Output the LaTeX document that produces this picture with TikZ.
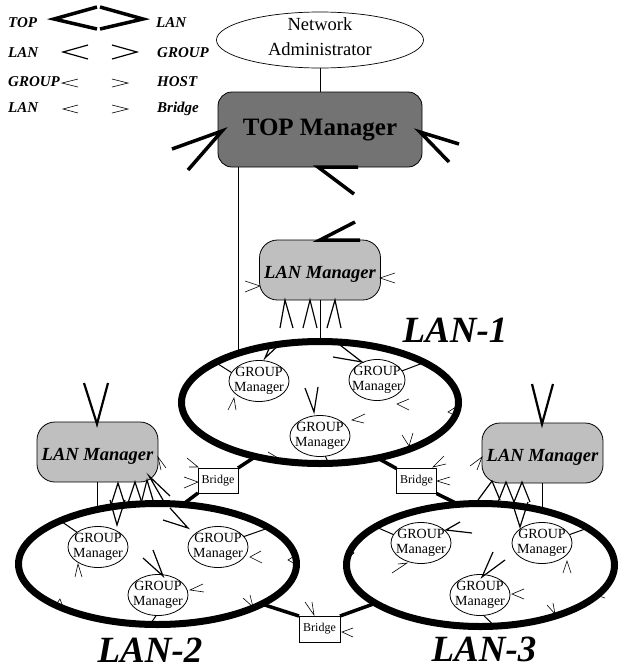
\documentclass[tikz,border=0pt]{standalone}
\usepackage{fontspec}
\setmainfont{Liberation Serif}
\usetikzlibrary{shapes.geometric}
\begin{document}
\begin{tikzpicture}[x=1pt,y=-1pt,
  lanring/.style={ellipse,draw,line width=7pt,inner sep=0pt,outer sep=0pt},
  gm/.style={ellipse,draw,line width=0.8pt,inner xsep=-8pt,inner ysep=-5pt,outer sep=0pt,
    minimum width=60pt,minimum height=41pt,align=center,font=\fontsize{14}{15}\selectfont},
  lanmgr/.style={rectangle,rounded corners=18pt,draw,line width=0.8pt,fill=black!25,
    minimum width=121pt,minimum height=60pt,inner sep=0pt,outer sep=0pt,
    font=\fontsize{18.5}{20}\selectfont\bfseries\itshape},
  bridgebox/.style={rectangle,draw,line width=0.7pt,minimum width=40pt,minimum height=25pt,
    inner sep=0pt,outer sep=0pt,font=\fontsize{12}{13}\selectfont},
  conn/.style={line width=1pt},
  bconn/.style={line width=3.5pt},
  chevXL/.style={line width=3.5pt},
  chevL/.style={line width=2.2pt},
  chevM/.style={line width=1.2pt},
  chevS/.style={line width=0.6pt},
  lbl/.style={font=\fontsize{15}{16}\selectfont\bfseries\itshape,anchor=base west,inner sep=0pt},
  lanlbl/.style={font=\fontsize{37}{40}\selectfont\bfseries\itshape,anchor=base,inner sep=0pt},
]
\useasboundingbox (0,0) rectangle (619,670);

% ---------- legend ----------
\node[lbl] (lTOP) at (8,27) {TOP};
\node[lbl] (lLANa) at (156,27) {LAN};
\node[lbl] (lLANb) at (8,57) {LAN};
\node[lbl] (lGROUPa) at (157,57) {GROUP};
\node[lbl] (lGROUPb) at (8,86) {GROUP};
\node[lbl] (lHOST) at (157,86) {HOST};
\node[lbl] (lLANc) at (8,112) {LAN};
\node[lbl] (lBridge) at (157,112) {Bridge};
\draw[chevXL] (97,7) -- (54,19) -- (97,29);
\draw[chevXL] (100,7) -- (143,19) -- (100,29);
\draw[chevM] (88,45) -- (63,52) -- (88,59);
\draw[chevM] (112,45) -- (137,52) -- (112,59);
\draw[chevS] (78,79) -- (62,83) -- (78,87);
\draw[chevS] (112,79) -- (128,83) -- (112,87);
\draw[chevS] (78,105) -- (63,109) -- (78,113);
\draw[chevS] (112,105) -- (128,109) -- (112,113);

% ---------- top part ----------
\node[ellipse,draw,line width=0.7pt,inner sep=0pt,minimum width=207pt,minimum height=56pt] (admin) at (320,40) {};
\node[align=center,font=\fontsize{18.5}{25}\selectfont,inner sep=0pt] (admintxt) at (320,37) {Network\\Administrator};
\node[rectangle,rounded corners=14pt,draw,line width=0.8pt,fill=black!55,minimum width=204pt,
  minimum height=75pt,inner sep=0pt,outer sep=0pt,font=\fontsize{25}{28}\selectfont\bfseries] (topm) at (320,129.5) {TOP Manager};
\draw[conn] (admin.south) -- (topm.north);

% ---------- LAN rings ----------
\node[lanring,minimum width=277pt,minimum height=122pt] (lan1) at (320,402.5) {};
\node[lanring,minimum width=278pt,minimum height=121pt] (lan2) at (157.5,564) {};
\node[lanring,minimum width=268pt,minimum height=123pt] (lan3) at (480.5,565) {};

\node[lanlbl] (lab1) at (455,342) {LAN-1};
\node[lanlbl] (lab2) at (150,662) {LAN-2};
\node[lanlbl] (lab3) at (484,661) {LAN-3};

% ---------- LAN managers ----------
\node[lanmgr] (lan1mgr) at (320,270) {\raisebox{-4pt}[\height][\depth]{LAN Manager}};
\node[lanmgr] (lan2mgr) at (97.5,452) {\raisebox{-4pt}[\height][\depth]{LAN Manager}};
\node[lanmgr] (lan3mgr) at (542.5,453) {\raisebox{-4pt}[\height][\depth]{LAN Manager}};

\draw[conn] (lan1.149) -- (lan1.149 |- topm.south);
\draw[conn] (lan1mgr.south) -- (lan1.north);
\draw[conn,shorten >=-4pt] (lan2mgr.south) -- (lan2mgr.south |- lan2.north);
\draw[conn,shorten >=-5pt] (lan3mgr.south) -- (lan3mgr.south |- lan3.north);

% ---------- GROUP managers ----------
\node[gm] (g11) at (259,381) {GROUP\\Manager};
\node[gm,minimum width=56pt] (g12) at (377,380) {GROUP\\Manager};
\node[gm] (g13) at (320,436) {GROUP\\Manager};
\node[gm] (g21) at (98,547) {GROUP\\Manager};
\node[gm] (g22) at (218,547) {GROUP\\Manager};
\node[gm] (g23) at (158,595) {GROUP\\Manager};
\node[gm] (g31) at (421,543) {GROUP\\Manager};
\node[gm] (g32) at (542,543) {GROUP\\Manager};
\node[gm] (g33) at (480,595) {GROUP\\Manager};

\draw[conn] (lan1.159) -- (g11.163);
\draw[conn] (g12.20) -- (lan1.21);
\draw[conn] (g13.-75) -- (lan1.-82);
\draw[conn] (lan2.156) -- (g21.145);
\draw[conn] (g22.22) -- (lan2.18);
\draw[conn] (g23.-95) -- (lan2.-97);
\draw[conn] (lan3.160) -- (g31.163);
\draw[conn] (g32.17) -- (lan3.19);
\draw[conn] (g33.-80) -- (lan3.-77);

% ---------- bridges ----------
\node[bridgebox] (b1) at (218,480.5) {Bridge};
\node[bridgebox] (b2) at (416.5,481) {Bridge};
\node[bridgebox,minimum width=41pt,minimum height=26pt] (b3) at (319.5,629) {Bridge};
\draw[bconn] (b1.north east) -- (lan1.220);
\draw[bconn] (b1.south west) -- (lan2.67);
\draw[bconn] (b2.north west) -- (lan1.316);
\draw[bconn] (b2.south east) -- (lan3.110);
\draw[bconn] (b3.north west) -- (lan2.339);
\draw[bconn] (b3.north east) -- (lan3.200);

% ---------- TOP <-> LAN chevrons ----------
\draw[chevXL] (172,149) -- (222,131) -- (188,170);
\draw[chevXL] (459,144) -- (420,132) -- (449,162);
\draw[chevXL] (358,167) -- (318,167) -- (354,194);
\draw[chevXL] (360,240) -- (320,240) -- (355,222);
\draw[chevL] (84,383) -- (97,424) -- (108,383);
\draw[chevL] (532,384) -- (542,424) -- (553,384);

% ---------- LAN-1 manager chevrons ----------
\draw[chevS] (245,281) -- (260,286) -- (245,292);
\draw[chevS] (395,273) -- (380,278) -- (395,283);
\draw[chevM] (280,328) -- (285,300) -- (293,328);
\draw[chevM] (303,328) -- (310,300) -- (317,328);
\draw[chevM] (327,328) -- (335,300) -- (341,328);

% ---------- LAN-1 internal chevrons ----------
\draw[chevM] (281,343) -- (265,358) -- (271,344);
\draw[chevM] (333,357) -- (362,362) -- (340,345);
\draw[chevM] (305,388) -- (314,412) -- (318,387);
\draw[chevS] (409,399) -- (397,404) -- (409,410);
\draw[chevS] (228,410) -- (234,398) -- (236,410);
\draw[chevS] (365,414) -- (352,420) -- (364,423);
\draw[chevS] (402,435) -- (409,446) -- (413,433);
\draw[chevS] (456,407) -- (448,412) -- (456,416);
\draw[chevS] (268,452) -- (278,458) -- (272,461);

% ---------- bridge chevrons ----------
\draw[chevS] (187,458) -- (198,467) -- (189,467);
\draw[chevS] (184,477) -- (198,482) -- (184,488);
\draw[chevS] (444,456) -- (433,467) -- (446,464);
\draw[chevS] (450,477) -- (437,481) -- (450,485);
\draw[chevS] (305,602) -- (314,615) -- (312,602);
\draw[chevS] (353,628) -- (342,632) -- (353,637);

% ---------- LAN-2 manager chevrons ----------
\draw[chevM] (111,505) -- (118,483) -- (125,505);
\draw[chevM] (110,500) -- (117,525) -- (125,500);
\draw[chevM] (128,503) -- (135,482) -- (142,503);
\draw[chevM] (142,500) -- (147,480) -- (153,500);
\draw[chevM] (163,500) -- (149,476) -- (170,496);
\draw[chevS] (166,468) -- (158,457) -- (161,470);

% ---------- LAN-2 internal chevrons ----------
\draw[chevM] (163,520) -- (188,528) -- (170,508);
\draw[chevM] (143,558) -- (163,576) -- (153,550);
\draw[chevS] (203,584) -- (190,590) -- (204,592);
\draw[chevS] (261,551) -- (250,557) -- (262,563);
\draw[chevS] (75,577) -- (78,564) -- (82,577);
\draw[chevS] (243,598) -- (253,607) -- (250,595);
\draw[chevS] (55,606) -- (60,599) -- (63,607);
\draw[chevS] (296,555) -- (288,560) -- (297,565);

% ---------- LAN-3 manager chevrons ----------
\draw[chevM] (478,500) -- (492,481) -- (500,500);
\draw[chevM] (498,502) -- (506,482) -- (514,502);
\draw[chevM] (514,502) -- (522,482) -- (530,502);
\draw[chevM] (512,502) -- (520,527) -- (528,502);
\draw[chevS] (470,466) -- (482,457) -- (477,470);

% ---------- LAN-3 internal chevrons ----------
\draw[chevM] (472,533) -- (446,530) -- (460,522);
\draw[chevS] (392,573) -- (407,563) -- (398,564);
\draw[chevS] (563,573) -- (567,561) -- (571,573);
\draw[chevM] (493,552) -- (482,577) -- (505,560);
\draw[chevS] (524,589) -- (512,594) -- (524,599);
\draw[chevS] (547,605) -- (555,614) -- (553,603);
\draw[chevS] (603,589) -- (596,595) -- (605,598);
\draw[chevS] (348,549) -- (354,553) -- (348,558);
\end{tikzpicture}
\end{document}
